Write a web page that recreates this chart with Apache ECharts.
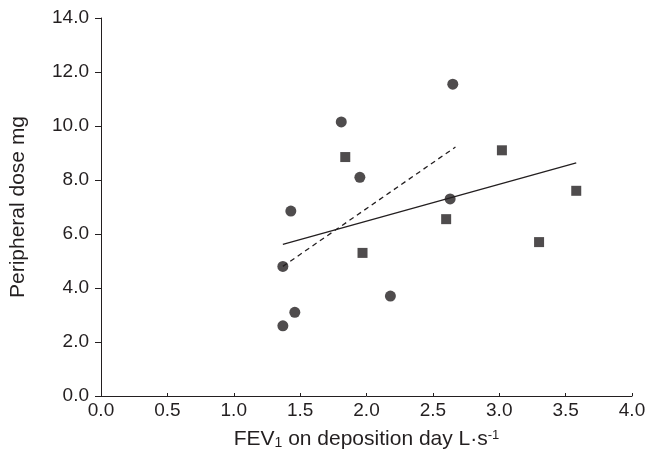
<!DOCTYPE html>
<html><head><meta charset="utf-8">
<script src="https://cdn.jsdelivr.net/npm/echarts@6/dist/echarts.min.js"></script>
<style>html,body{margin:0;padding:0;background:#fff}#c{width:648px;height:454px}</style>
</head><body><div id="c"></div>
<script>
const xTicks = [0.0, 0.5, 1.0, 1.5, 2.0, 2.5, 3.0, 3.5, 4.0];
const yTicks = [0.0, 2.0, 4.0, 6.0, 8.0, 10.0, 12.0, 14.0];
const circlePoints = [
  [1.37, 2.6], [1.46, 3.1], [1.37, 4.8], [1.43, 6.85], [1.81, 10.15],
  [1.95, 8.1], [2.18, 3.7], [2.63, 7.3], [2.65, 11.55]
];
const squarePoints = [
  [1.84, 8.85], [1.97, 5.3], [2.60, 6.55], [3.02, 9.1], [3.30, 5.7], [3.58, 7.6]
];
const solidLine = [[1.37, 5.62], [3.58, 8.63]];
const dashedLine = [[1.37, 4.8], [2.67, 9.22]];

const ink = '#231f20';
const font = '"Liberation Sans", Arial, sans-serif';
const chart = echarts.init(document.getElementById('c'));
chart.setOption({
  animation: false,
  grid: { left: 101, right: 16, top: 18, bottom: 58, containLabel: false, outerBoundsMode: 'none' },
  xAxis: {
    type: 'value', min: 0, max: 4, interval: 0.5,
    axisLine: { show: true, onZero: false, lineStyle: { color: ink, width: 1 } },
    axisTick: { show: true, inside: true, length: 3, lineStyle: { color: ink } },
    splitLine: { show: false },
    axisLabel: { color: ink, fontSize: 19, fontFamily: font, margin: 5,
      formatter: v => v.toFixed(1) },
    name: '{a|FEV}{s|1}{a| on deposition day L·s}{p|-1}',
    nameLocation: 'middle', nameGap: 33,
    nameTextStyle: {
      rich: {
        a: { fontSize: 21, fontFamily: font, color: ink },
        s: { fontSize: 14, fontFamily: font, color: ink, verticalAlign: 'bottom', padding: [6, 0, 0, 0] },
        p: { fontSize: 13, fontFamily: font, color: ink, verticalAlign: 'top', padding: [0, 0, 8, 0] }
      }
    }
  },
  yAxis: {
    type: 'value', min: 0, max: 14, interval: 2,
    axisLine: { show: true, lineStyle: { color: ink, width: 1 } },
    axisTick: { show: true, inside: false, length: 6, lineStyle: { color: ink } },
    splitLine: { show: false },
    axisLabel: { color: ink, fontSize: 19, fontFamily: font, margin: 12,
      formatter: v => v.toFixed(1) },
    name: 'Peripheral dose mg', nameLocation: 'middle', nameGap: 72,
    nameTextStyle: { color: ink, fontSize: 21, fontFamily: font }
  },
  series: [
    { type: 'line', data: solidLine, symbol: 'none', lineStyle: { color: ink, width: 1.3 }, z: 1 },
    { type: 'line', data: dashedLine, symbol: 'none', lineStyle: { color: ink, width: 1.3, type: [5, 4] }, z: 1 },
    { type: 'scatter', data: circlePoints, symbol: 'circle', symbolSize: 11,
      itemStyle: { color: ink }, z: 3 },
    { type: 'scatter', data: squarePoints, symbol: 'rect', symbolSize: 10,
      itemStyle: { color: ink }, z: 3 }
  ]
});
</script></body></html>
